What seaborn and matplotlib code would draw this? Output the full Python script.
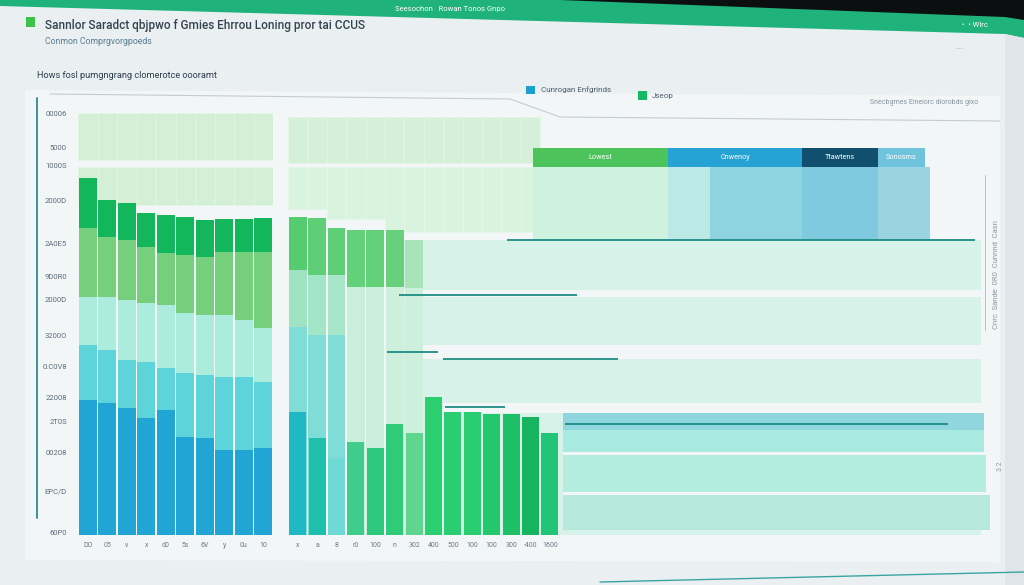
import numpy as np
import pandas as pd
import matplotlib
matplotlib.use("Agg")
import matplotlib.pyplot as plt
import seaborn as sns
from matplotlib.patches import Polygon, Rectangle
from matplotlib.lines import Line2D

# ---------------- data ----------------
left_labels = ["DO", "05", "v", "x", "d0", "5s", "6V", "y", "0u", "10"]
left_blue = [31.4, 30.7, 29.5, 27.2, 29.1, 22.8, 22.6, 19.8, 19.8, 20.2]
left_cyan = [44.2, 43.0, 40.7, 40.2, 38.8, 37.7, 37.2, 36.7, 36.7, 35.6]
left_mint = [55.3, 55.3, 54.7, 54.0, 53.5, 51.6, 51.2, 51.2, 50.0, 48.1]
left_lgreen = [71.4, 69.3, 68.6, 67.0, 65.6, 65.1, 64.7, 65.8, 65.8, 65.8]
left_dgreen = [83.0, 77.9, 77.2, 74.9, 74.4, 74.0, 73.3, 73.5, 73.5, 73.7]
left_pale_lo = [76.7, 87.2]
left_pale_hi = [85.6, 98.1]

ytick_vals = [98.1, 90.0, 86.0, 77.9, 67.9, 60.0, 54.7, 46.3, 39.3, 31.9, 26.5, 19.3, 10.2, 0.5]
ytick_labels = ["00006", "5000", "1000S", "2000D", "2A0E5", "9D0R0", "2000D", "3200O",
                "0.C0V8", "22008", "2T0S", "00208", "EPC/D", "60P0"]

mid_labels = ["x", "a", "8", "r0", "100", "n", "302", "400", "500", "100", "100", "300", "-400", "1600"]
mid_green = [74.0, 73.7, 71.4, 70.9, 70.9, 70.9, 68.6, 0, 0, 0, 0, 0, 0, 0]
mid_mint = [61.6, 60.5, 60.5, 57.7, 57.7, 57.7, 57.4, 0, 0, 0, 0, 0, 0, 0]
mid_cyan = [48.4, 46.5, 46.5, 0, 0, 0, 0, 0, 0, 0, 0, 0, 0, 0]
mid_front = [28.6, 22.6, 17.9, 21.6, 20.2, 25.8, 23.7, 32.1, 28.6, 28.6, 28.1, 28.1, 27.4, 23.7]
mid_pale_top_lo = 86.5
mid_pale_top_hi = 97.2
mid_pale2_hi = 85.6
mid_pale2_lo = [75.7, 75.7, 73.4, 73.4, 73.4, 70.4, 70.4, 70.4, 70.4, 70.4, 70.4, 70.4, 70.4]

legend_bar_names = ["Lowest", "Cnwenoy", "Ttawtens", "Sonosms"]
legend_bar_x0 = [12.13, 19.09, 25.99, 29.91]
legend_bar_x1 = [19.09, 25.99, 29.91, 32.34]
legend_bar_lo, legend_bar_hi = 85.6, 90.0

block_x0 = [12.13, 19.09, 21.25, 25.99, 29.91]
block_x1 = [19.09, 21.25, 25.99, 29.91, 32.59]
block_lo, block_hi = 68.6, 85.6

band_lo = [0.0, 55.3, 40.9, 28.4, 24.4, 19.3, 18.6, 10.0, 9.3, 1.2]
band_hi = [68.6, 57.0, 44.2, 30.7, 28.4, 24.4, 19.3, 18.6, 10.0, 9.3]
band_x0 = [5.5, 5.5, 5.6, 7.5, 13.7, 13.7, 13.7, 13.7, 13.7, 13.7]
band_x1 = [35.2, 35.4, 35.5, 35.5, 35.4, 35.4, 35.4, 35.5, 35.5, 35.7]

line_y = [68.6, 55.8, 42.6, 40.9, 29.8, 25.8]
line_x0 = [10.79, 5.22, 4.6, 7.49, 7.6, 13.78]
line_x1 = [34.91, 14.4, 7.23, 16.51, 10.7, 33.52]

# ---------------- style ----------------
sns.set_theme(style="white")
plt.rcParams['font.family'] = ['Roboto', 'DejaVu Sans']

W, H = 1024, 585
PANEL = "#f3f6f7"

def fx(px):
    return px / W

def fy(py):
    return 1 - py / H

fig = plt.figure(figsize=(10.24, 5.85), dpi=100)
fig.patch.set_facecolor("#e8edf0")

def fpoly(pts, color, z=-5):
    fig.patches.append(Polygon([(fx(x), fy(y)) for x, y in pts], closed=True,
                               transform=fig.transFigure, facecolor=color,
                               edgecolor="none", zorder=z))

# screen background + header
fpoly([(0, 0), (1024, 0), (1024, 585), (0, 585)], "#eaeff2", -6)
fpoly([(25, 90), (1000, 96), (1000, 562), (25, 560)], PANEL)
fpoly([(0, 0), (1024, 0), (1024, 38), (1005, 34), (0, 6)], "#1fb27b")
fpoly([(560, 0), (1024, 0), (1024, 20), (1005, 17)], "#0b0f10")
fpoly([(1005, 34), (1024, 38), (1024, 585), (1005, 585)], "#dfe5e8")

fig.patches.append(Rectangle((fx(26), fy(27)), 9 / W, 10 / H, transform=fig.transFigure,
                             facecolor="#3cc247", edgecolor="none", zorder=2))
fig.text(fx(45), fy(26), "Sannlor Saradct qbjpwo f Gmies Ehrrou Loning pror tai CCUS",
         fontsize=8.5, color="#34444f", va="center", ha="left", weight="medium")
fig.text(fx(45), fy(42), "Conmon Comprgvorgpoeds", fontsize=6.3, color="#5a7d92",
         va="center", ha="left")
fig.text(fx(37), fy(75), "Hows fosl pumgngrang clomerotce oooramt", fontsize=6.6,
         color="#2d3e4c", va="center", ha="left")
fig.text(fx(395), fy(9), "Seesochon   Rowan Tonos Gnpo", fontsize=5.5, color="white",
         va="center", ha="left")
fig.text(fx(962), fy(25), "•  • Wlrc", fontsize=5.5, color="white", va="center", ha="left")
fig.text(fx(955), fy(50), "—··", fontsize=5, color="#b8c2c8", va="center", ha="left")

# legend
fig.patches.append(Rectangle((fx(526), fy(94)), 9 / W, 8 / H, transform=fig.transFigure,
                             facecolor="#1a9fcf", edgecolor="none", zorder=2))
fig.text(fx(541), fy(90), "Cunrogan Enfgrinds", fontsize=5.8, color="#4d5f6c", va="center")
fig.patches.append(Rectangle((fx(638), fy(100)), 9 / W, 9 / H, transform=fig.transFigure,
                             facecolor="#17b865", edgecolor="none", zorder=2))
fig.text(fx(652), fy(96), "Jseop", fontsize=5.8, color="#4d5f6c", va="center")
fig.text(fx(870), fy(103), "Snecbgrnes Eineiorc diorobds gixo", fontsize=5,
         color="#8795a0", va="center")

# decorative lines
fig.add_artist(Line2D([fx(50), fx(510), fx(560), fx(1000)], [fy(94), fy(99), fy(117), fy(121)],
                      color="#c3ccd1", lw=0.8, zorder=-4))
fig.add_artist(Line2D([fx(37), fx(37)], [fy(98), fy(518)], color="#2b8c8c", lw=1.3, zorder=3))
fig.add_artist(Line2D([fx(985), fx(985)], [fy(175), fy(330)], color="#a9c8cc", lw=0.7, zorder=3))
fig.add_artist(Line2D([fx(600), fx(1024)], [fy(582), fy(572)], color="#3aa5a0", lw=1.0, zorder=3))
fig.text(fx(996), fy(275), "Cnrc  Sande  0R0  Cunnnd  Casn", rotation=90, fontsize=5.5,
         color="#8a99a2", va="center", ha="center")
fig.text(fx(1000), fy(466), "3 2", rotation=90, fontsize=5, color="#8a99a2",
         va="center", ha="center")


def layer(ax, values, colors, width):
    n = len(values)
    keys = [f"k{i}" for i in range(n)]
    if isinstance(colors, str):
        colors = [colors] * n
    df = pd.DataFrame({"pos": list(range(n)), "val": values, "key": keys})
    sns.barplot(data=df, x="pos", y="val", hue="key", palette=dict(zip(keys, colors)),
                legend=False, width=width, saturation=1, dodge=False, errorbar=None,
                linewidth=0, ax=ax)


# ---------------- left panel ----------------
axL = fig.add_axes([fx(78), 1 - 535 / H, 195 / W, 430 / H])
axL.set_facecolor("none")
nL = len(left_blue)
for lo, hi in zip(left_pale_lo, left_pale_hi):
    axL.bar(range(nL), [hi - lo] * nL, bottom=lo, width=1.0, color="#d3efd6",
            edgecolor="#e2f5e3", linewidth=0.6, zorder=0.5)
layer(axL, left_dgreen, "#14b65b", 0.9)
layer(axL, left_lgreen, "#76cf7c", 0.9)
layer(axL, left_mint, "#abecdc", 0.9)
layer(axL, left_cyan, "#5dd3da", 0.9)
layer(axL, left_blue, "#21a5d5", 0.9)
axL.set_xlim(-0.5, nL - 0.5)
axL.set_ylim(0, 100)
axL.set_xticks(range(nL))
axL.set_xticklabels(left_labels)
axL.set_yticks(ytick_vals)
axL.set_yticklabels(ytick_labels)
axL.tick_params(axis="x", length=0, pad=5, labelsize=5, labelcolor="#6b7b88")
axL.tick_params(axis="y", length=0, pad=8, labelsize=5.5, labelcolor="#5d6d7a")
axL.set_xlabel("")
axL.set_ylabel("")
for s in axL.spines.values():
    s.set_visible(False)

# ---------------- middle / right panel ----------------
axM = fig.add_axes([fx(288), 1 - 535 / H, 704 / W, 430 / H])
axM.set_facecolor("none")
nP = len(mid_pale2_lo)
axM.bar(range(nP), [mid_pale_top_hi - mid_pale_top_lo] * nP, bottom=mid_pale_top_lo,
        width=1.0, color="#d4f0d8", edgecolor="#e3f6e6", linewidth=0.6, zorder=0.5)
axM.bar(range(nP), [mid_pale2_hi - v for v in mid_pale2_lo], bottom=mid_pale2_lo,
        width=1.0, color="#d8f3de", edgecolor="#e5f7e8", linewidth=0.6, zorder=0.5)

band_colors = ["#d7f2e8", PANEL, PANEL, PANEL, "#8fd6df", "#a8eadf", PANEL,
               "#b4ecdf", PANEL, "#b6e9dc"]
for lo, hi, x0, x1, c in zip(band_lo, band_hi, band_x0, band_x1, band_colors):
    axM.barh(lo, x1 - x0, height=hi - lo, left=x0, align="edge", color=c,
             edgecolor="none", zorder=0.6)

block_colors = ["#cff1e0", "#bce9e6", "#8fd3e0", "#80cae0", "#9ad3e2"]
for x0, x1, c in zip(block_x0, block_x1, block_colors):
    axM.barh(block_lo, x1 - x0, height=block_hi - block_lo, left=x0, align="edge",
             color=c, edgecolor="none", zorder=0.7)

legend_bar_colors = ["#4dc35b", "#26a2d4", "#114f6e", "#6fc3dc"]
for name, x0, x1, c in zip(legend_bar_names, legend_bar_x0, legend_bar_x1, legend_bar_colors):
    axM.barh(legend_bar_lo, x1 - x0, height=legend_bar_hi - legend_bar_lo, left=x0,
             align="edge", color=c, edgecolor="none", zorder=0.8)
    axM.text((x0 + x1) / 2, (legend_bar_lo + legend_bar_hi) / 2, name, color="white",
             fontsize=5.2, ha="center", va="center", zorder=3)

mid_green_colors = ["#55cc70", "#5fcf77", "#5fcf77", "#63d07a", "#63d07a", "#66d07c",
                    "#a8e4b7"] + ["#d8f3e8"] * 7
mid_mint_colors = ["#9fe3c3", "#a3e5c7", "#a8e6ca", "#c9efdb", "#c9efdb", "#cdf0dd",
                   "#cdf0dd"] + ["#d8f3e8"] * 7
mid_front_colors = ["#1fb9c6", "#1fbfae", "#6fdad5", "#3fcc8c", "#2dca7d", "#2fcb78",
                    "#5fd68e", "#2ccf70", "#2bcd72", "#2acd72", "#23c86c", "#1ebf66",
                    "#16b45e", "#22c578"]
layer(axM, mid_green, mid_green_colors, 0.92)
layer(axM, mid_mint, mid_mint_colors, 0.92)
layer(axM, mid_cyan, "#7fdcd6", 0.92)
layer(axM, mid_front, mid_front_colors, 0.88)

axM.hlines(line_y, line_x0, line_x1, color="#1e8c84", lw=1.3, zorder=4)

axM.set_xlim(-0.5, 35.79)
axM.set_ylim(0, 100)
axM.set_xticks(range(len(mid_labels)))
axM.set_xticklabels(mid_labels)
axM.set_yticks([])
axM.tick_params(axis="x", length=0, pad=5, labelsize=5, labelcolor="#6b7b88")
axM.set_xlabel("")
axM.set_ylabel("")
for s in axM.spines.values():
    s.set_visible(False)

fig.savefig("out.png", dpi=100, facecolor=fig.get_facecolor())
